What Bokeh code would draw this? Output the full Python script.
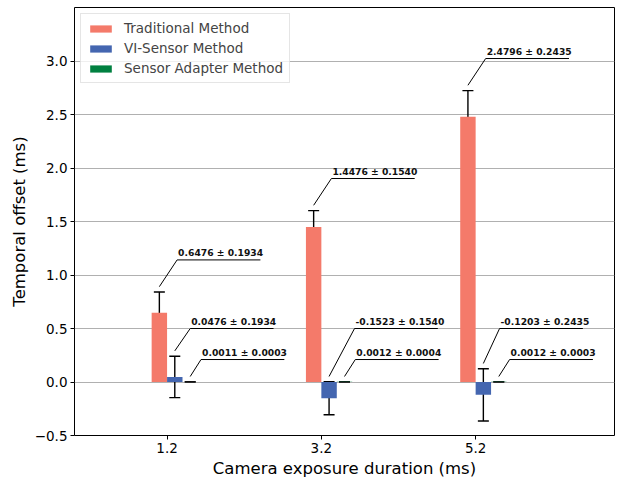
from bokeh.plotting import figure
from bokeh.models import ColumnDataSource, Whisker, TeeHead, Legend, LegendItem, FixedTicker, NumeralTickFormatter
from bokeh.core.properties import value
from bokeh.embed import file_html
from bokeh.resources import INLINE

# ---- data ----
exposure = [1.2, 3.2, 5.2]
tick_labels = ["1.2", "3.2", "5.2"]
methods = ["Traditional Method", "VI-Sensor Method", "Sensor Adapter Method"]
traditional = [0.6476, 1.4476, 2.4796]
traditional_err = [0.1934, 0.1540, 0.2435]
vi_sensor = [0.0476, -0.1523, -0.1203]
vi_sensor_err = [0.1934, 0.1540, 0.2435]
adapter = [0.0011, 0.0012, 0.0012]
adapter_err = [0.0003, 0.0004, 0.0003]
y_ticks = [-0.5, 0.0, 0.5, 1.0, 1.5, 2.0, 2.5, 3.0]

# ---- style / layout ----
colors = ["#F47A6A", "#4466B0", "#008040"]
offsets = [-0.1, 0.1, 0.3]
bar_width = 0.2
FONT = "DejaVu Sans"

p = figure(width=618, height=480, x_range=(0, 7), y_range=(-0.5, 3.5),
           output_backend="svg", toolbar_location=None,
           min_border_left=74, min_border_right=4, min_border_top=7, min_border_bottom=44)
p.background_fill_color = "white"
p.outline_line_color = "black"
p.outline_line_width = 1
p.xgrid.grid_line_color = None
p.ygrid.grid_line_color = "#b0b0b0"
p.ygrid.grid_line_width = 1
p.ygrid.ticker = FixedTicker(ticks=y_ticks)

series = [(traditional, traditional_err), (vi_sensor, vi_sensor_err), (adapter, adapter_err)]
legend_items = []
bar_sources = []
for k, (vals, errs) in enumerate(series):
    xs = [e + offsets[k] for e in exposure]
    src = ColumnDataSource(dict(x=xs, top=vals,
                                upper=[v + e for v, e in zip(vals, errs)],
                                lower=[v - e for v, e in zip(vals, errs)]))
    bar_sources.append(src)
    r = p.vbar(x="x", top="top", bottom=0, width=bar_width, source=src,
               fill_color=colors[k], line_color=None)
    legend_items.append(LegendItem(label=methods[k], renderers=[r]))

for src in bar_sources:
    w = Whisker(source=src, base="x", upper="upper", lower="lower",
                line_color="black", line_width=1.4,
                upper_head=TeeHead(size=11, line_color="black", line_width=1.4),
                lower_head=TeeHead(size=11, line_color="black", line_width=1.4))
    p.add_layout(w)

# ---- annotations (leader line + underlined label) ----
ann_xs, ann_ys, lab_x, lab_y, lab_t = [], [], [], [], []
blue_dx = [0.2, 0.33, 0.21]
line_len = 1.08
for i, g in enumerate(exposure):
    for k, (vals, errs) in enumerate(series):
        cx = g + offsets[k]
        top = vals[i] + errs[i]
        sy = top + 0.05
        if k == 0:
            ex, ey = cx + 0.23, top + 0.3
        elif k == 1:
            ex, ey = cx + blue_dx[i], 0.5
        else:
            ex, ey = cx + 0.14, 0.21
        ann_xs.append([cx, ex, ex + line_len])
        ann_ys.append([sy, ey, ey])
        lab_x.append(ex)
        lab_y.append(ey)
        lab_t.append(f"{vals[i]:.4f} \u00b1 {errs[i]:.4f}")

p.multi_line(xs=ann_xs, ys=ann_ys, line_color="black", line_width=1)
p.text(x=lab_x, y=lab_y, text=lab_t, text_align="left", text_baseline="bottom",
       y_offset=-2, x_offset=1, text_font=value(FONT), text_font_style="bold",
       text_font_size="9.2px", text_color="#111111")

# ---- axes ----
for ax in (p.xaxis[0], p.yaxis[0]):
    ax.axis_line_color = None
    ax.major_tick_line_color = "black"
    ax.major_tick_out = 4
    ax.major_tick_in = 0
    ax.minor_tick_line_color = None
    ax.major_label_text_font = FONT
    ax.major_label_text_font_size = "13.5px"
    ax.major_label_text_color = "black"
    ax.axis_label_text_font = FONT
    ax.axis_label_text_font_size = "16.5px"
    ax.axis_label_text_font_style = "normal"
    ax.axis_label_text_color = "black"
    ax.major_label_standoff = 3
    ax.axis_label_standoff = 3

p.xaxis.ticker = FixedTicker(ticks=exposure)
p.xaxis.major_label_overrides = {e: t for e, t in zip(exposure, tick_labels)}
p.xaxis.axis_label = "Camera exposure duration (ms)"
p.yaxis.ticker = FixedTicker(ticks=y_ticks)
p.yaxis.formatter = NumeralTickFormatter(format="0.0")
p.yaxis.major_label_overrides = {-0.5: "\u22120.5"}
p.yaxis.axis_label = "Temporal offset (ms)"

legend = Legend(items=legend_items, location="top_left",
                label_text_font=FONT, label_text_font_size="13.5px",
                glyph_width=27, glyph_height=9, label_standoff=10,
                label_height=16, spacing=4, padding=6, margin=6,
                border_line_color="#cccccc", border_line_width=1,
                background_fill_alpha=0.8)
p.add_layout(legend)

open("out.html", "w").write(file_html(p, INLINE))
